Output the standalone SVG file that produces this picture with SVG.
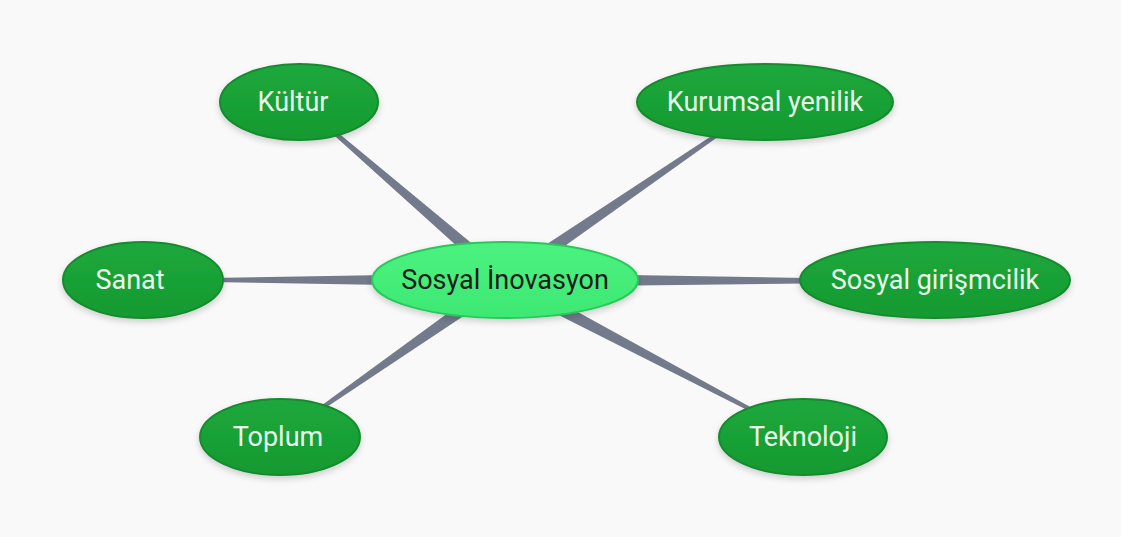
<svg xmlns="http://www.w3.org/2000/svg" width="1121" height="537" viewBox="0 0 1121 537">
<defs>
<linearGradient id="gOuter" x1="0" y1="0" x2="0" y2="1">
<stop offset="0" stop-color="#1fa83d"/>
<stop offset="1" stop-color="#129a2f"/>
</linearGradient>
<linearGradient id="gCenter" x1="0" y1="0" x2="0" y2="1">
<stop offset="0" stop-color="#4cf27f"/>
<stop offset="1" stop-color="#3de873"/>
</linearGradient>
<filter id="sh" x="-20%" y="-30%" width="140%" height="170%">
<feDropShadow dx="0" dy="3" stdDeviation="3" flood-color="#000" flood-opacity="0.18"/>
</filter>
</defs>
<style>
.outer{fill:url(#gOuter);stroke:#168a2e;stroke-width:2;filter:url(#sh)}
.center{fill:url(#gCenter);stroke:#2bc85c;stroke-width:2;filter:url(#sh)}
.lbl{font-family:Roboto,"Noto Sans",sans-serif;font-size:27px;text-anchor:middle;fill:#eaf7ec}
.clbl{font-family:Roboto,"Noto Sans",sans-serif;font-size:27px;text-anchor:middle;fill:#1c1c1c}
.conn{fill:#737a8c}
</style>
<rect width="1121" height="537" fill="#f9f9f9"/>
<g id="connectors">
<polygon class="conn" points="500.4,285.3 509.6,274.7 300,101.2 298,102.8"/>
<polygon class="conn" points="501.2,274.1 508.8,285.9 765.6,102.8 764.4,101.2"/>
<polygon class="conn" points="505,273 505,287 143,281 143,279"/>
<polygon class="conn" points="505,273 505,287 935,282 935,280"/>
<polygon class="conn" points="501,274.3 509,285.7 280.6,437.8 279.4,436.2"/>
<polygon class="conn" points="501.7,286.2 508.3,273.8 803.5,436.1 802.5,437.9"/>
</g>
<g id="n-kultur"><ellipse class="outer" cx="299" cy="102" rx="79" ry="38"/><text class="lbl" x="293" y="111">Kültür</text></g>
<g id="n-kurumsal"><ellipse class="outer" cx="765" cy="102" rx="128" ry="38"/><text class="lbl" x="765" y="111">Kurumsal yenilik</text></g>
<g id="n-sanat"><ellipse class="outer" cx="143" cy="280" rx="80" ry="38"/><text class="lbl" x="130" y="289">Sanat</text></g>
<g id="n-girisimcilik"><ellipse class="outer" cx="935" cy="280" rx="135" ry="38"/><text class="lbl" x="935" y="289">Sosyal girişmcilik</text></g>
<g id="n-toplum"><ellipse class="outer" cx="280" cy="437" rx="80" ry="38"/><text class="lbl" x="278" y="446">Toplum</text></g>
<g id="n-teknoloji"><ellipse class="outer" cx="803" cy="437" rx="84" ry="38"/><text class="lbl" x="803" y="446">Teknoloji</text></g>
<g id="n-center"><ellipse class="center" cx="505" cy="280" rx="133" ry="38"/><text class="clbl" x="505" y="289">Sosyal İnovasyon</text></g>
</svg>
